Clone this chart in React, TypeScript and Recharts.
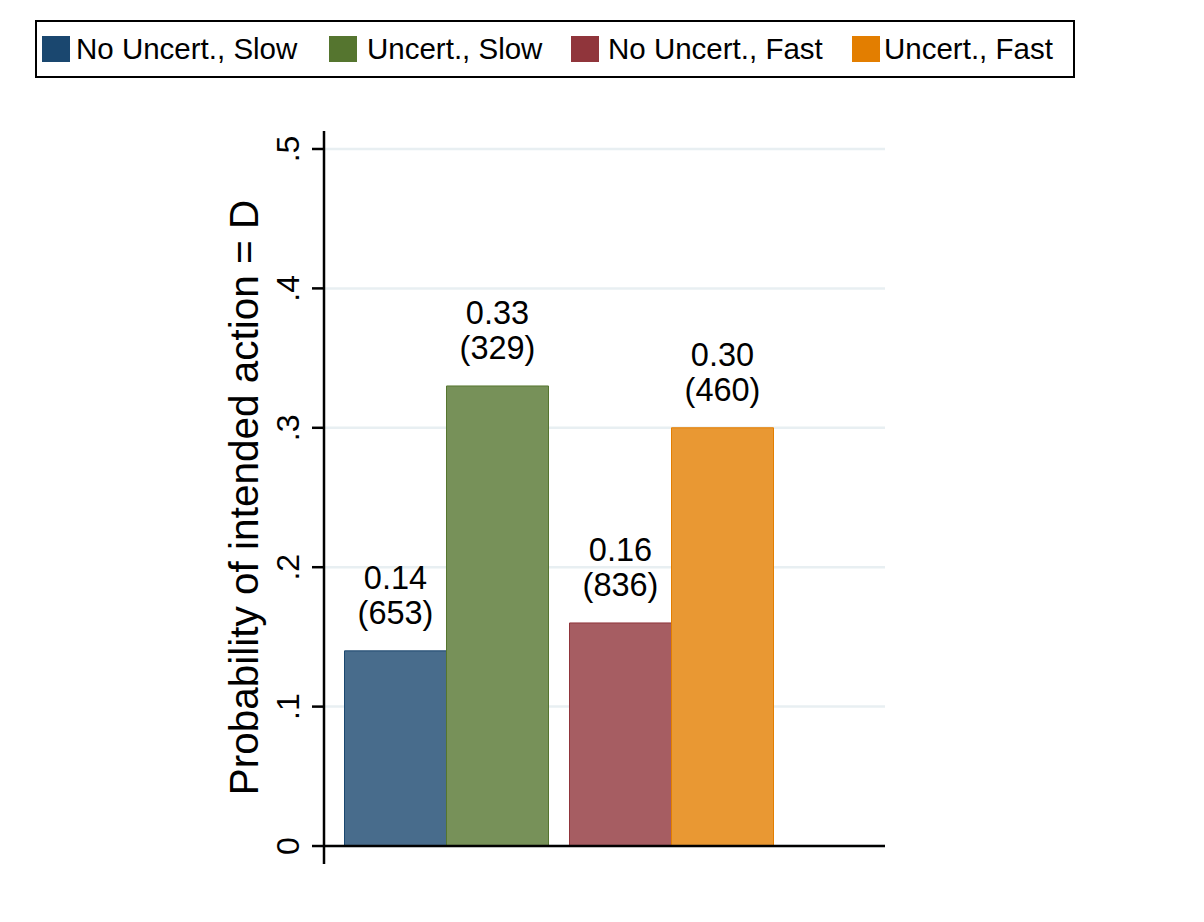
import React from 'react';
import { BarChart, Bar, XAxis, YAxis, CartesianGrid, ReferenceLine, Legend, LabelList, Cell } from 'recharts';

const categories = ['Slow', 'Fast'];
const noUncertValues = [0.14, 0.16];
const uncertValues = [0.33, 0.30];
const noUncertCounts = [653, 836];
const uncertCounts = [329, 460];
const yTicks = [0, 0.1, 0.2, 0.3, 0.4, 0.5];
const yTickLabels = ['0', '.1', '.2', '.3', '.4', '.5'];
const legendLabels = ['No Uncert., Slow', 'Uncert., Slow', 'No Uncert., Fast', 'Uncert., Fast'];

const lineColors = ['#1a476f', '#55752f', '#90353b', '#e37e00'];
const fillColors = ['#486c8c', '#779159', '#a65d62', '#e99833'];

const FONT = '"Liberation Sans", Arial, Helvetica, sans-serif';

const data = categories.map((c, i) => ({
  name: c,
  noUncert: noUncertValues[i],
  uncert: uncertValues[i],
  noUncertN: noUncertCounts[i],
  uncertN: uncertCounts[i],
}));

const YTick = (props: any) => {
  const { x, y, payload } = props;
  const idx = yTicks.indexOf(payload.value);
  const label = idx >= 0 ? yTickLabels[idx] : String(payload.value);
  return (
    <text
      x={x}
      y={y}
      transform={`rotate(-90, ${x}, ${y})`}
      textAnchor="middle"
      fontSize={32}
      fontFamily={FONT}
      fill="#000"
    >
      {label}
    </text>
  );
};

const makeValueLabel = (countKey: 'noUncertN' | 'uncertN') => (props: any) => {
  const { x, y, width, index } = props;
  const cx = x + width / 2;
  const v = countKey === 'noUncertN' ? noUncertValues[index] : uncertValues[index];
  const n = countKey === 'noUncertN' ? noUncertCounts[index] : uncertCounts[index];
  return (
    <g>
      <text x={cx} y={y - 61.5} textAnchor="middle" fontSize={32.5} fontFamily={FONT} fill="#000">
        {v.toFixed(2)}
      </text>
      <text x={cx} y={y - 27} textAnchor="middle" fontSize={32.5} fontFamily={FONT} fill="#000">
        ({n})
      </text>
    </g>
  );
};

const legendItemPos = [
  { sw: 5, tx: 39 },
  { sw: 292, tx: 330 },
  { sw: 534, tx: 571 },
  { sw: 815, tx: 847 },
];

const LegendContent = () => (
  <div
    style={{
      position: 'relative',
      width: 1040,
      height: 58,
      boxSizing: 'border-box',
      border: '2px solid #000',
      background: '#fff',
      fontFamily: FONT,
    }}
  >
    {legendLabels.map((lab, i) => (
      <React.Fragment key={lab}>
        <div
          style={{
            position: 'absolute',
            left: legendItemPos[i].sw,
            top: 14,
            width: 28,
            height: 26,
            background: lineColors[i],
          }}
        />
        <div
          style={{
            position: 'absolute',
            left: legendItemPos[i].tx,
            top: 10,
            fontSize: 29.5,
            lineHeight: '34px',
            color: '#000',
            whiteSpace: 'nowrap',
          }}
        >
          {lab}
        </div>
      </React.Fragment>
    ))}
  </div>
);

const YTitle = (props: any) => {
  const { viewBox } = props;
  const cy = viewBox.y + viewBox.height / 2;
  const x = 250;
  return (
    <text
      x={x}
      y={cy}
      transform={`rotate(-90, ${x}, ${cy})`}
      textAnchor="middle"
      fontSize={40.5}
      fontFamily={FONT}
      fill="#000"
    >
      Probability of intended action = D
    </text>
  );
};

// Draw grid lines only at real ticks (skip lines at the plot's top / bottom edges)
const GridLine = (props: any) => {
  const { x1, y1, x2, y2, y, height, stroke, strokeWidth } = props;
  if (typeof y === 'number' && typeof height === 'number') {
    if (Math.abs(y1 - y) < 1 || Math.abs(y1 - (y + height)) < 1) return <g />;
  }
  return <line x1={x1} y1={y1} x2={x2} y2={y2} stroke={stroke} strokeWidth={strokeWidth} />;
};

export default function App() {
  return (
    <div style={{ width: 1188, height: 906, background: '#fff' }}>
      <BarChart
        width={1188}
        height={906}
        data={data}
        margin={{ top: 123, right: 311, bottom: 50, left: 0 }}
        barGap={0}
        barSize={102}
      >
        <CartesianGrid
          vertical={false}
          stroke="#e8eff2"
          strokeWidth={2.5}
          horizontal={(p: any) => <GridLine {...p} />}
        />
        <XAxis dataKey="name" hide padding={{ left: 9.5, right: 101.5 }} />
        <YAxis
          width={316}
          domain={[-0.0129, 0.5129]}
          ticks={yTicks}
          allowDataOverflow
          axisLine={{ stroke: '#000', strokeWidth: 2.5 }}
          tickLine={{ stroke: '#000', strokeWidth: 2.5 }}
          tickSize={12}
          tickMargin={13}
          tick={<YTick />}
          label={<YTitle />}
        />
        <Legend
          layout="horizontal"
          verticalAlign="middle"
          align="center"
          content={<LegendContent />}
          wrapperStyle={{ position: 'absolute', left: 27, top: 12, width: 1040, height: 58 }}
        />
        <Bar dataKey="noUncert" isAnimationActive={false} strokeWidth={1}>
          <Cell fill={fillColors[0]} stroke={lineColors[0]} />
          <Cell fill={fillColors[2]} stroke={lineColors[2]} />
          <LabelList dataKey="noUncert" content={makeValueLabel('noUncertN')} />
        </Bar>
        <Bar dataKey="uncert" isAnimationActive={false} strokeWidth={1}>
          <Cell fill={fillColors[1]} stroke={lineColors[1]} />
          <Cell fill={fillColors[3]} stroke={lineColors[3]} />
          <LabelList dataKey="uncert" content={makeValueLabel('uncertN')} />
        </Bar>
        <ReferenceLine y={0} stroke="#000" strokeWidth={2.5} />
      </BarChart>
    </div>
  );
}
